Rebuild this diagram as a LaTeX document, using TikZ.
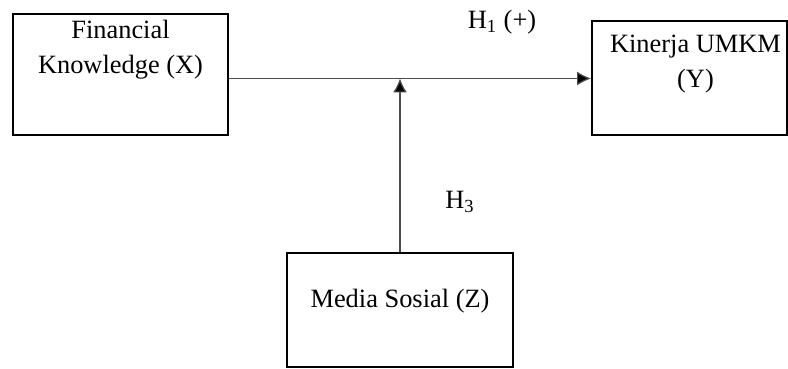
\documentclass[tikz,border=0pt]{standalone}
\usepackage{fontspec}
\setmainfont{Liberation Serif}
\usetikzlibrary{math, positioning, arrows.meta}

\begin{document}
\begin{tikzpicture}[x=0.5pt, y=-0.5pt,
    caja/.style = {draw, line width=1pt, inner sep=0pt},
    texto/.style = {align=center, inner sep=0pt,
        font=\fontsize{13.2}{17.5}\selectfont},
    flecha/.style = {draw=black!70, line width=0.6pt,
        -{Latex[length=7pt, width=7pt, fill=black]}}]
    \tikzmath{
        \xval = 788;
        \yval = 369;
    }

% marco
\useasboundingbox (0,0) rectangle (\xval,\yval);

% Cajas
\node[caja, minimum width=107.5pt, minimum height=60.5pt] (fk) at (120.5, 74.5) {};
\node[caja, minimum width=97.5pt, minimum height=57pt] (km) at (689.5, 78.5) {};
\node[caja, minimum width=113pt, minimum height=57pt] (ms) at (400, 310) {};

% Textos de las cajas
\node[texto, anchor=north, below=3.5pt of fk.north] (fktext) {Financial\\Knowledge (X)};
\node[texto, anchor=north, below=7pt of km.north, xshift=3pt] (kmtext) {Kinerja UMKM\\(Y)};
\node[texto, anchor=north, below=18.5pt of ms.north] (mstext) {Media Sosial (Z)};

% Flechas
\coordinate (cruce) at (ms.north |- km.west);
\draw[flecha] (fk.east |- km.west) -- (km.west);
\draw[flecha] (ms.north) -- (cruce);

% Hipotesis
\node[texto] (h1) at (502, 22) {H\textsubscript{1} (+)};
\node[texto] (h3) at (460, 202) {H\textsubscript{3}};

\end{tikzpicture}
\end{document}
